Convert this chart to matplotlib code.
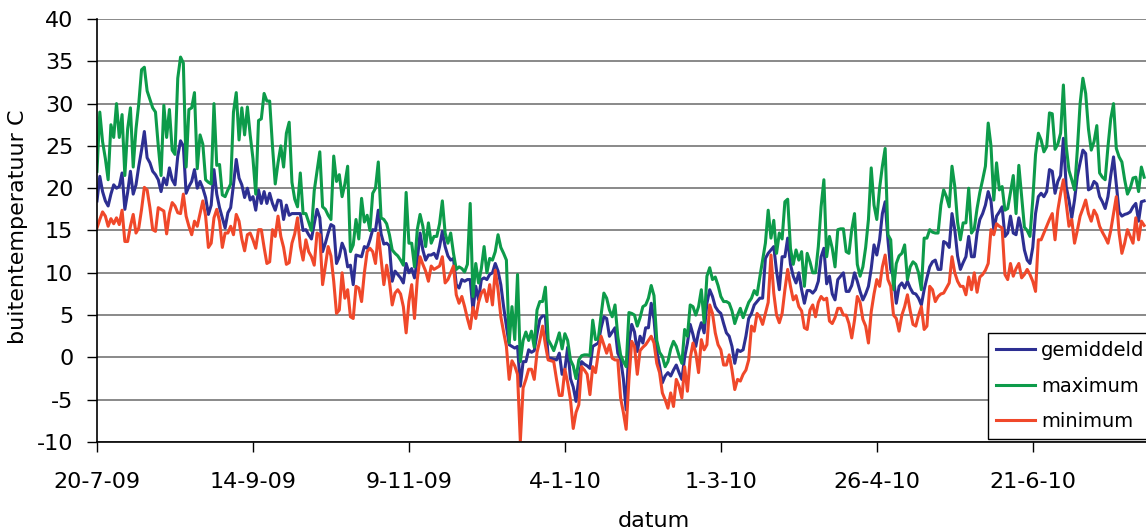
import pandas as pd
import matplotlib
matplotlib.use("Agg")
import matplotlib.pyplot as plt

plt.rcParams['font.family'] = ['DejaVu Sans']
plt.rcParams['axes.unicode_minus'] = False

# daily values from 20-7-2009
start = "2009-07-20"

maximum = [
    22, 29, 25.5, 23.5, 21, 27.5, 26, 30, 26, 28.7,
    21.5, 27, 29.5, 22.5, 27, 30, 34, 34.3, 31.5, 30.5,
    29.5, 29, 25, 21.5, 29.8, 26, 29.3, 24.5, 24, 33,
    35.5, 34.8, 22.5, 29.3, 29.5, 31.3, 22.3, 26.3, 25.2, 21,
    20.7, 20.5, 30, 22.7, 22.8, 19.2, 19, 19.8, 20.5, 29,
    31.3, 25.7, 29.5, 26.3, 29.6, 26.3, 23.5, 19.3, 28, 28.2,
    31.2, 30.3, 30.3, 25, 20.5, 23, 25, 22.5, 26.5, 27.8,
    20.7, 18.7, 17.8, 21.8, 17, 17, 16, 15, 19.7, 22,
    24.3, 17.8, 17.5, 16.8, 16.3, 23.8, 20.8, 21.6, 19, 20.5,
    22.6, 12.5, 13.3, 16.3, 14, 18.8, 16, 16.8, 15, 19.4,
    20, 23.1, 16.5, 16.3, 15.8, 14.5, 12.7, 12.3, 12, 11.5,
    10.9, 19.5, 13.5, 13.5, 10.7, 15.1, 16.9, 15.5, 13.1, 15.9,
    13.5, 14.3, 14.3, 15.8, 18.5, 14.7, 13.5, 14.7, 12.3, 10.4,
    10.7, 10.5, 10.1, 11, 18.2, 7.2, 11.1, 8.8, 10.5, 13.1,
    10, 11.7, 11.5, 12.5, 14.5, 13, 12.3, 11.5, 1.7, 6,
    2.1, 9.8, -0.5, 2, 3, 2, 3.1, 1.2, 5.6, 6.6,
    6.6, 8.3, 2.1, 1.5, 0.8, 1.8, 2.9, 1, 2.8, 2,
    -0.3, -1, -2.5, -0.3, 0.2, 0.3, 0.3, 0.2, 4.4, 2.1,
    2.2, 5, 7.6, 7, 5.6, 4.8, 6.2, 2.5, 0.3, -0.5,
    -1.1, 5.3, 5.2, 5, 3.7, 4.7, 6, 6.2, 7, 8.5,
    7.3, 2, 0.6, 0.1, -1.1, -0.5, 1, 1.9, 1.3, 0.2,
    -0.7, 3.3, 2.5, 6.2, 6, 5, 6, 8, 4.1, 9.6,
    10.6, 9.2, 9.5, 8.5, 7.2, 6.6, 6.6, 6.4, 5.5, 4,
    5, 5.8, 4.7, 5.6, 6.5, 7, 7.9, 7.4, 9.5, 11.5,
    13.5, 17.4, 14.1, 16.2, 12.3, 14.7, 14, 18.4, 18.7, 12.9,
    11, 12.7, 11.5, 12.5, 8.4, 12.3, 11.3, 10, 10, 13.1,
    17.8, 21, 11.9, 14.3, 12.9, 10.7, 15.1, 15.2, 15.2, 12.5,
    12.3, 15.1, 17, 11, 9.6, 10.7, 13, 16.3, 22.4, 18,
    16.3, 20, 22.6, 24.7, 14.5, 13.9, 8, 11.1, 12, 12.3,
    13.3, 9.2, 10.7, 11.3, 11, 10, 8, 14.1, 14.1, 15.1,
    14.8, 14.7, 14.7, 18, 19.8, 19, 17.8, 22.6, 20.2, 16,
    13.9, 15.9, 15.9, 20, 14.7, 15.2, 17.6, 19.5, 21, 22.6,
    27.7, 25, 18.6, 23, 19.8, 20.2, 17.4, 17.6, 19.5, 21.5,
    17, 22.7, 19, 15.4, 15, 14.3, 18.6, 24, 26.5, 25.7,
    24.3, 24.9, 28.9, 28.8, 24.6, 25.2, 26.5, 32.2, 25, 22.1,
    21, 19.8, 24.5, 30, 33, 31.2, 27, 24.5, 25.5, 27.4,
    21.8, 21.3, 21, 24.9, 28.2, 30, 24.7, 23.7, 23.1, 21,
    19.3, 20, 21.2, 21.3, 19.6, 22.5, 21.3,
]

gemiddeld = [
    18.5, 21.4, 19.6, 18.5, 17.9, 19.3, 20.4, 20, 20.2, 21.8,
    17.5, 19.5, 22, 19.3, 20.4, 22.6, 24.5, 26.7, 23.6, 23,
    22, 21.6, 21, 19.6, 21.2, 20.4, 22.4, 21, 20.4, 23.8,
    25.6, 25, 19.4, 20.2, 20.8, 22.2, 20, 20.8, 20, 18.9,
    16.9, 18, 22.2, 19.3, 17.7, 16.5, 15.3, 17.1, 17.7, 20.4,
    23.4, 21.2, 20.4, 18.9, 20, 18.6, 19, 17.4, 19.8, 18.2,
    19.6, 18.2, 19.4, 18.2, 17.4, 18.6, 18.5, 16.3, 18, 16.8,
    17, 17, 17, 17, 15, 15.1, 14.5, 14, 15.8, 17.5,
    16.5, 12.5, 13.5, 14.7, 15.7, 15.5, 11.1, 11.9, 13.5, 12.7,
    10.7, 10.9, 8.6, 12.1, 12, 11.9, 13.1, 12.9, 13.9, 15.1,
    15, 17.4, 14.6, 13.4, 13.5, 13.2, 9, 10.2, 9.8, 9.4,
    8.8, 11.1, 10, 10.5, 9.4, 11.5, 14.7, 12.7, 11.5, 12.1,
    12.1, 12.3, 11.7, 13.1, 14.9, 13.1, 12, 11.5, 11.7, 8.6,
    8.2, 9.2, 9, 9.2, 9.2, 5.6, 8.4, 6.8, 9.2, 9.4,
    9.2, 9.8, 10, 11.1, 10.2, 8.6, 6, 3.7, 1.5, 1.3,
    1.1, 1.3, -3.4, -0.5, -0.5, 0.9, 0.6, 0.8, 2.8, 4.5,
    4.9, 4.9, -0.1, -0.1, -0.2, -0.3, 0.5, -2, -1.4, 1.2,
    -2.5, -3.5, -5.2, -2.5, -0.5, -0.8, -1, -1.3, 1.3, 1.5,
    1.7, 3.5, 4.8, 4.6, 2.5, 3, 3.5, 0.5, -0.2, -2.5,
    -6.2, 1.7, 3.9, 3, 0.7, 2.5, 1.7, 3.5, 3.5, 6.4,
    4.5, 0.7, -1, -3, -2.2, -1.8, -2.2, -1.5, -0.9, -1.8,
    -2.6, 0, 1.7, 3.9, 2.7, 1.3, 3, 4.1, 2.9, 6.4,
    8, 7.2, 6, 5.5, 5.2, 4, 2.9, 2.5, 1.3, -0.7,
    0.9, 0.7, 0.9, 2.5, 4.6, 5.2, 6.2, 6.6, 7, 7,
    11.7, 12.3, 12.7, 13.1, 10.2, 8, 11.9, 11.9, 14.1, 11,
    9.6, 8.8, 10, 8, 6.4, 7.9, 7.9, 7.6, 8, 9,
    11.9, 12.9, 8.7, 9.6, 7.5, 6.8, 9.2, 9.6, 10, 7.8,
    7.8, 8.5, 10, 9, 7.8, 6.8, 7.5, 8.4, 10.5, 13.3,
    12.1, 13.9, 17, 18.4, 13.9, 10.4, 9.5, 6.4, 8.4, 8.8,
    8.2, 9, 8.2, 7.6, 7.5, 7, 6.2, 8, 9.4, 10.7,
    11.3, 11.5, 10.4, 10.4, 13.7, 13.5, 13, 17, 15.1, 12,
    10.4, 11.2, 11.9, 14.3, 11.9, 11.9, 14.7, 16.3, 17, 18,
    19.6, 18.5, 15.1, 16.7, 17.2, 17.8, 14.3, 14.7, 16.7, 14.7,
    14.5, 16.5, 15, 12.7, 11.5, 11.1, 13, 17, 19, 19.4,
    19, 19.6, 22.2, 22, 19.4, 20.8, 21.5, 25.9, 20.2, 18.6,
    16.5, 18.6, 21.4, 23, 24.5, 24.1, 19.8, 20, 20.8, 20.5,
    19, 18.4, 17.6, 19, 21.5, 23.7, 20.4, 17.2, 16.7, 16.9,
    17, 17.2, 17.8, 18.2, 16.1, 18.4, 18.5,
]

minimum = [
    15.3, 16.3, 17.2, 16.7, 15.5, 16.4, 15.8, 16.5, 15.7, 17.4,
    13.7, 13.7, 15.5, 16.9, 14.7, 15.3, 17.5, 20.1, 19.8, 17.7,
    15.1, 14.9, 17.7, 17.5, 17.3, 14.6, 17, 18.3, 17.9, 17.1,
    17, 19.3, 16.7, 15.5, 14.5, 16.1, 15.5, 17, 18.5, 16.7,
    13, 13.5, 16.5, 17.5, 16.1, 13, 14.7, 14.7, 15.5, 14.5,
    16.9, 16.1, 14, 12.6, 14.5, 14.7, 13.9, 12.9, 15.1, 15.1,
    13, 11.1, 11.3, 15.1, 14.3, 16.7, 14.3, 13, 11, 11.2,
    13.5, 14.6, 16.5, 13.1, 11.5, 13.9, 12.5, 11.9, 10.9, 14.7,
    14.5, 8.6, 10.8, 13.1, 12, 9, 5.2, 5.6, 10, 7,
    8, 4.8, 4.6, 8.4, 8.2, 6.6, 10, 12.5, 12.9, 12.5,
    11.1, 14.7, 11.7, 8.6, 10.9, 9, 6.2, 7.6, 8, 7.5,
    6, 2.9, 6.6, 8.6, 4.6, 9.2, 11.9, 11, 10.2, 9,
    10.8, 10.4, 10.6, 10.8, 11.9, 8.8, 9.2, 10, 10.8, 7.4,
    6.4, 7.2, 6, 4.6, 3.4, 5.9, 4.6, 6.5, 7.6, 8,
    6.6, 8.6, 6.2, 10.3, 8, 4.8, 3, 1.3, -2.6, -0.4,
    -1, -2, -9.9, -3.6, -2.6, -1.4, -1.4, -2.6, 0.6, 2,
    3.7, 1.5, -0.3, -0.4, -0.5, -2.6, -4.5, -4.5, -1.4, -3,
    -5, -8.4, -6.5, -5.6, -1.1, -1.5, -2, -4.4, -1.1, -1.8,
    0.5, 2.5, 1.5, 0.5, 1.5, -0.1, -0.3, -0.3, -4.8, -6.5,
    -8.5, -2.6, 1.9, 1.3, -2, 0.8, 1.2, 1.5, 2, 2.5,
    1.7, -0.7, -1.8, -4.2, -5, -6, -4.2, -5.8, -2.6, -3.4,
    -4.8, -1.1, -4, -0.1, 1.7, 0.5, -1.8, 2.1, 0.9, 1.5,
    6.2, 5.2, 2.9, 1.5, 0.9, -0.9, -0.9, 0.3, -1.5, -3.8,
    -2.6, -2.8, -2, -1.5, -0.3, 3.7, 3.1, 5.2, 4.8, 3.9,
    5.2, 6.5, 12.1, 7.6, 5, 4.1, 5.2, 8, 10.4, 8.4,
    6.8, 7.3, 6, 5.5, 3.5, 3.3, 5.6, 6.2, 4.8, 6.5,
    7.2, 6.8, 7, 4.3, 4, 4.7, 5.8, 5.8, 5, 5,
    4, 2.3, 4.4, 7.2, 6.5, 4.5, 3.7, 1.7, 5.4, 7.5,
    9.2, 8.4, 10.7, 12.1, 9.2, 8.4, 5, 4.6, 3.1, 5,
    6, 7.4, 5.5, 3.9, 3.7, 5, 6, 3.3, 3.7, 8.4,
    8, 6.6, 7.2, 7.5, 7.6, 8.2, 8.8, 11.9, 10, 9,
    8.4, 8.4, 7.4, 9.5, 8, 10, 7.7, 9.5, 9.8, 10.3,
    11.1, 15.1, 14.5, 15.8, 15.5, 15.3, 9.8, 9.2, 11.1, 9.6,
    10.5, 11.1, 9.4, 9.8, 10.4, 9.8, 9, 7.8, 13.9, 13.9,
    14.7, 15.5, 16.3, 17, 13.9, 17.4, 19.4, 21, 18.2, 15.5,
    16.3, 13.5, 15, 16.7, 17.6, 18.6, 17, 16.1, 17.4, 16.8,
    15.5, 14.8, 14.2, 13.5, 15, 17, 19, 14.7, 12.3, 13.5,
    15.1, 14.3, 13.5, 16.5, 13.9, 16.1, 15.6,
]

tick_dates = ["2009-07-20", "2009-09-14", "2009-11-09", "2010-01-04",
              "2010-03-01", "2010-04-26", "2010-06-21"]
tick_labels = ["20-7-09", "14-9-09", "9-11-09", "4-1-10",
               "1-3-10", "26-4-10", "21-6-10"]

series = [("gemiddeld", gemiddeld, "#2d2f92"),
          ("maximum",   maximum,   "#0d9b4a"),
          ("minimum",   minimum,   "#f0482a")]

fig = plt.figure(figsize=(11.46, 5.32), dpi=100)
# plot area runs past the right edge (the original is cropped there)
ax = fig.add_axes([97 / 1146, 1 - 442 / 532, 1114 / 1146, 423 / 532])

t0 = pd.Timestamp(start)
ax.set_xlim(t0, t0 + pd.Timedelta(days=400))
ax.set_ylim(-10, 40)

for name, vals, col in series:
    days = pd.date_range(start, periods=len(vals), freq="D")
    ax.plot(days, vals, color=col, lw=2.2, label=name)

ax.set_yticks(range(-10, 41, 5))
ax.yaxis.grid(True, color="#808080", lw=1.3)
ax.set_axisbelow(True)
ax.set_xticks(pd.to_datetime(tick_dates))
ax.set_xticklabels(tick_labels)

for s in ["top", "right"]:
    ax.spines[s].set_visible(False)
for s in ["left", "bottom"]:
    ax.spines[s].set_color("black")
    ax.spines[s].set_linewidth(1.2)

ax.tick_params(axis="y", direction="out", length=7, width=1, pad=10, labelsize=16)
ax.tick_params(axis="x", direction="out", length=7, width=1, pad=14.5, labelsize=16)
ax.set_xlabel("datum", fontsize=16, labelpad=14)
ax.set_ylabel("buitentemperatuur C", fontsize=16)
ax.yaxis.set_label_coords(-69 / 1114, 0.51)

# legend box is cut off by the right edge, as in the original
fig.legend(loc="upper left", bbox_to_anchor=(988 / 1146, 1 - 333 / 532),
           frameon=True, fancybox=False, edgecolor="black", framealpha=1,
           fontsize=14, handlelength=2.0, handletextpad=0.3,
           borderpad=0.42, labelspacing=0.85, borderaxespad=0)

fig.savefig("out.png", dpi=100)
